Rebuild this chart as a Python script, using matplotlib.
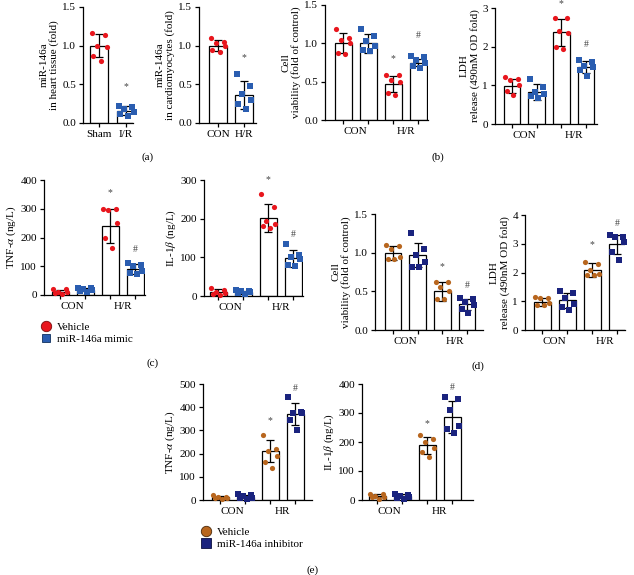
import matplotlib
matplotlib.use("Agg")
import matplotlib.pyplot as plt
from matplotlib.lines import Line2D

plt.rcParams["font.family"] = ["Liberation Serif", "DejaVu Serif"]
plt.rcParams["mathtext.fontset"] = "stix"
plt.rcParams["font.size"] = 8

W, H = 634, 575

RED, BLUE = "#e8161d", "#2a5db0"
BROWN, NAVY = "#b8661e", "#1a237e"

# ── data ────────────────────────────────────────────────────
a1_cats = ["Sham", "I/R"]
a1_mean = [1.0, 0.16]
a1_sd = [0.15, 0.06]
a1_pts = [[1.16, 1.14, 1.0, 0.98, 0.87, 0.80], [0.22, 0.21, 0.18, 0.14, 0.11, 0.09]]
a1_sig = ["", "*"]
a1_sig_y = [0, 0.47]

a2_cats = ["CON", "H/R"]
a2_mean = [1.0, 0.36]
a2_sd = [0.07, 0.18]
a2_pts = [[1.10, 1.05, 1.04, 1.0, 0.95, 0.92], [0.64, 0.48, 0.38, 0.30, 0.24, 0.18]]
a2_sig = ["", "*"]
a2_sig_y = [0, 0.85]

groups_hr = ["CON", "H/R"]
groups_h = ["CON", "HR"]

b1_mean = [1.0, 1.0, 0.47, 0.75]
b1_sd = [0.13, 0.12, 0.11, 0.05]
b1_pts = [[1.19, 1.07, 1.05, 1.0, 0.88, 0.86], [1.19, 1.09, 1.03, 0.97, 0.91, 0.90],
          [0.59, 0.59, 0.52, 0.50, 0.35, 0.32], [0.83, 0.82, 0.78, 0.75, 0.70, 0.68]]
b1_sig_y = [0, 0, 0.80, 1.10]

b2_mean = [0.98, 0.83, 2.37, 1.47]
b2_sd = [0.18, 0.20, 0.35, 0.15]
b2_pts = [[1.22, 1.17, 1.15, 1.0, 0.85, 0.75], [1.17, 0.95, 0.82, 0.78, 0.72, 0.66],
          [2.74, 2.74, 2.40, 2.35, 2.0, 1.93], [1.66, 1.60, 1.50, 1.48, 1.40, 1.25]]
b2_sig_y = [0, 0, 3.12, 2.05]

c1_mean = [10, 18, 240, 90]
c1_sd = [8, 5, 58, 17]
c1_pts = [[22, 20, 12, 10, 6, 2], [25, 24, 20, 18, 15, 12],
          [300, 298, 295, 250, 200, 163], [110, 105, 100, 85, 75, 72]]
c1_sig_y = [0, 0, 355, 160]

c2_mean = [10, 10, 202, 98]
c2_sd = [7, 4, 37, 22]
c2_pts = [[20, 15, 10, 8, 5, 2], [15, 14, 12, 10, 8, 6],
          [265, 230, 195, 185, 180, 175], [135, 105, 100, 95, 80, 78]]
c2_sig_y = [0, 0, 300, 160]

d1_mean = [1.0, 0.97, 0.50, 0.33]
d1_sd = [0.09, 0.16, 0.12, 0.07]
d1_pts = [[1.10, 1.08, 1.05, 0.95, 0.92, 0.92], [1.25, 1.05, 0.97, 0.88, 0.82, 0.82],
          [0.62, 0.62, 0.55, 0.50, 0.40, 0.40], [0.42, 0.40, 0.36, 0.32, 0.27, 0.22]]
d1_sig_y = [0, 0, 0.82, 0.58]

d2_mean = [0.98, 1.03, 2.08, 2.98]
d2_sd = [0.14, 0.26, 0.24, 0.33]
d2_pts = [[1.15, 1.12, 1.10, 0.95, 0.88, 0.88], [1.35, 1.28, 1.10, 0.90, 0.80, 0.70],
          [2.38, 2.30, 2.10, 1.95, 1.90, 1.90], [3.30, 3.25, 3.22, 3.05, 2.70, 2.45]]
d2_sig_y = [0, 0, 2.97, 3.70]

e1_mean = [12, 15, 210, 372]
e1_sd = [6, 8, 48, 48]
e1_pts = [[22, 15, 12, 10, 8, 5], [28, 22, 18, 10, 8, 5],
          [280, 220, 210, 190, 165, 140], [445, 380, 375, 375, 345, 300]]
e1_sig_y = [0, 0, 343, 479]

e2_mean = [15, 15, 188, 285]
e2_sd = [6, 6, 30, 55]
e2_pts = [[22, 20, 15, 12, 10, 5], [22, 18, 15, 12, 8, 5],
          [225, 210, 200, 180, 165, 150], [355, 350, 310, 255, 245, 230]]
e2_sig_y = [0, 0, 264, 387]

four_sig = ["", "", "*", "#"]

# horizontal spread of the dots inside a bar
JITTER = [-0.27, 0.24, -0.08, 0.28, -0.22, 0.06]

fig = plt.figure(figsize=(W / 100, H / 100), dpi=100)


def add_ax(left, right, bottom, top):
    return fig.add_axes([left / W, 1 - bottom / H, (right - left) / W, (bottom - top) / H])


def bar_panel(ax, means, sds, pts, colors, markers, sig, sig_y, ylim, yticks, xlim,
              ylabel, cats=None, group_labels=None, fmt="{:.1f}"):
    x = list(range(len(means)))
    ax.bar(x, means, width=0.68, color="white", edgecolor="black", linewidth=0.9, zorder=1)
    ax.errorbar(x, means, yerr=sds, fmt="none", ecolor="black", elinewidth=0.9,
                capsize=3, capthick=0.9, zorder=2)
    for i, vals in enumerate(pts):
        xs = [i + JITTER[k % len(JITTER)] for k in range(len(vals))]
        ax.scatter(xs, vals, s=14, color=colors[i], marker=markers[i], linewidths=0,
                   zorder=3, clip_on=False)
    for i, s in enumerate(sig):
        if s:
            ax.text(i, sig_y[i], s, ha="center", va="center", fontsize=7, color="#444444")
    ax.set_ylim(*ylim)
    ax.set_xlim(*xlim)
    ax.set_yticks(yticks)
    ax.set_yticklabels([fmt.format(t) for t in yticks])
    for sp in ("top", "right"):
        ax.spines[sp].set_visible(False)
    for sp in ("left", "bottom"):
        ax.spines[sp].set_linewidth(0.9)
    ax.tick_params(axis="both", length=3, width=0.9, pad=2)
    ax.set_xticks(x)
    if cats is not None:
        ax.set_xticklabels(cats)
    else:
        ax.set_xticklabels([])
        ax.set_xticks([0.5, 2.5], minor=True)
        ax.set_xticklabels(group_labels, minor=True)
        ax.tick_params(axis="x", which="minor", length=0, pad=5)
    ax.set_ylabel(ylabel, labelpad=2, linespacing=1.1)


# ── (a) ─────────────────────────────────────────────────────
ax = add_ax(83, 133, 123, 7)
bar_panel(ax, a1_mean, a1_sd, a1_pts, [RED, BLUE], ["o", "s"], a1_sig, a1_sig_y,
          (0, 1.5), [0, 0.5, 1.0, 1.5], (-0.59, 1.26),
          "miR-146a\nin heart tissue (fold)", cats=a1_cats)

ax = add_ax(199, 256, 123, 7)
bar_panel(ax, a2_mean, a2_sd, a2_pts, [RED, BLUE], ["o", "s"], a2_sig, a2_sig_y,
          (0, 1.5), [0, 0.5, 1.0, 1.5], (-0.73, 1.46),
          "miR-146a\nin cardiomyocytes (fold)", cats=a2_cats)

# ── (b) ─────────────────────────────────────────────────────
rb = [RED, BLUE, RED, BLUE]
ms = ["o", "s", "o", "s"]
ax = add_ax(325, 428, 120, 5)
bar_panel(ax, b1_mean, b1_sd, b1_pts, rb, ms, four_sig, b1_sig_y,
          (0, 1.5), [0, 0.5, 1.0, 1.5], (-0.72, 3.4),
          "Cell\nviability (fold of control)", group_labels=groups_hr)

ax = add_ax(495, 597, 124, 8)
bar_panel(ax, b2_mean, b2_sd, b2_pts, rb, ms, four_sig, b2_sig_y,
          (0, 3), [0, 1, 2, 3], (-0.69, 3.45),
          "LDH\nrelease (490nM OD fold)", group_labels=groups_hr, fmt="{:.0f}")

# ── (c) ─────────────────────────────────────────────────────
ax = add_ax(44, 145, 295, 180)
bar_panel(ax, c1_mean, c1_sd, c1_pts, rb, ms, four_sig, c1_sig_y,
          (0, 400), [0, 100, 200, 300, 400], (-0.64, 3.4),
          r"TNF-$\alpha$ (ng/L)", group_labels=groups_hr, fmt="{:.0f}")

ax = add_ax(204, 303, 296, 180)
bar_panel(ax, c2_mean, c2_sd, c2_pts, rb, ms, four_sig, c2_sig_y,
          (0, 300), [0, 100, 200, 300], (-0.56, 3.4),
          r"IL-1$\beta$ (ng/L)", group_labels=groups_hr, fmt="{:.0f}")

# ── (d) ─────────────────────────────────────────────────────
bn = [BROWN, NAVY, BROWN, NAVY]
ax = add_ax(375, 483, 330, 214)
bar_panel(ax, d1_mean, d1_sd, d1_pts, bn, ms, four_sig, d1_sig_y,
          (0, 1.5), [0, 0.5, 1.0, 1.5], (-0.73, 3.65),
          "Cell\nviability (fold of control)", group_labels=groups_hr)

ax = add_ax(525, 625, 330, 215)
bar_panel(ax, d2_mean, d2_sd, d2_pts, bn, ms, four_sig, d2_sig_y,
          (0, 4), [0, 1, 2, 3, 4], (-0.68, 3.32),
          "LDH\nrelease (490nM OD fold)", group_labels=groups_hr, fmt="{:.0f}")

# ── (e) ─────────────────────────────────────────────────────
ax = add_ax(203, 312, 500, 384)
bar_panel(ax, e1_mean, e1_sd, e1_pts, bn, ms, four_sig, e1_sig_y,
          (0, 500), [0, 100, 200, 300, 400, 500], (-0.68, 3.68),
          r"TNF-$\alpha$ (ng/L)", group_labels=groups_h, fmt="{:.0f}")

ax = add_ax(362, 473, 500, 384)
bar_panel(ax, e2_mean, e2_sd, e2_pts, bn, ms, four_sig, e2_sig_y,
          (0, 400), [0, 100, 200, 300, 400], (-0.6, 3.84),
          r"IL-1$\beta$ (ng/L)", group_labels=groups_h, fmt="{:.0f}")

# ── legends ─────────────────────────────────────────────────
leg_c = [Line2D([], [], ls="none", marker="o", ms=7.5, mfc=RED, mec="#7a0a0a", mew=0.6),
         Line2D([], [], ls="none", marker="s", ms=6, mfc=BLUE, mec="#10305e", mew=0.6)]
fig.legend(leg_c, ["Vehicle", "miR-146a mimic"], loc="upper left",
           bbox_to_anchor=(40 / W, 1 - 322 / H), frameon=False, handlelength=1.0,
           handletextpad=0.5, labelspacing=0.25, borderpad=0, borderaxespad=0, fontsize=8)

leg_e = [Line2D([], [], ls="none", marker="o", ms=7.5, mfc=BROWN, mec="#4a2808", mew=0.6),
         Line2D([], [], ls="none", marker="s", ms=6.5, mfc=NAVY, mec="#0a0f40", mew=0.6)]
fig.legend(leg_e, ["Vehicle", "miR-146a inhibitor"], loc="upper left",
           bbox_to_anchor=(200 / W, 1 - 527 / H), frameon=False, handlelength=1.0,
           handletextpad=0.5, labelspacing=0.25, borderpad=0, borderaxespad=0, fontsize=8)

# panel letters
for lab, px, py in [("(a)", 148, 157), ("(b)", 438, 157), ("(c)", 153, 363),
                    ("(d)", 478, 366), ("(e)", 313, 570)]:
    fig.text(px / W, 1 - py / H, lab, ha="center", va="center", fontsize=8)

fig.savefig("out.png", dpi=100)
